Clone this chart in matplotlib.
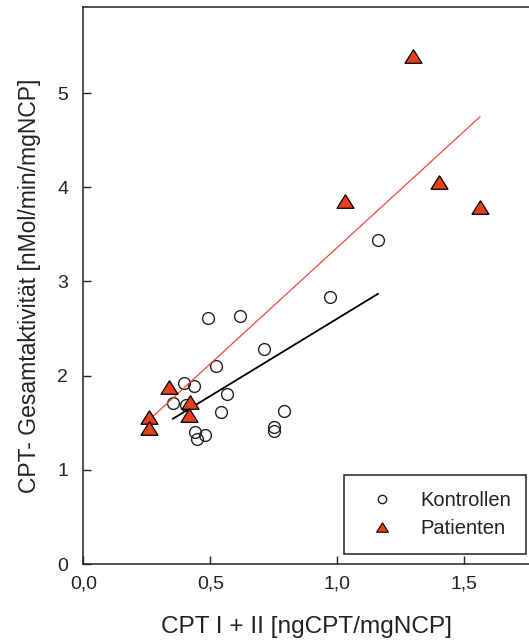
import matplotlib.pyplot as plt
from matplotlib.lines import Line2D
import numpy as np

plt.rcParams['font.family'] = ['Liberation Sans', 'DejaVu Sans']

# Kontrollen: CPT I + II vs. CPT total activity
ctrl_x = [1.160, 0.973, 0.490, 0.617, 0.712, 0.522, 0.395, 0.436, 0.353,
          0.405, 0.566, 0.544, 0.792, 0.750, 0.750, 0.440, 0.478, 0.446]
ctrl_y = [3.44, 2.84, 2.61, 2.63, 2.285, 2.10, 1.92, 1.89, 1.71,
          1.69, 1.80, 1.61, 1.63, 1.45, 1.41, 1.40, 1.37, 1.33]

# Patienten
pat_x = [1.300, 1.030, 1.402, 1.562, 0.339, 0.257, 0.257, 0.420, 0.418]
pat_y = [5.39, 3.85, 4.06, 3.79, 1.88, 1.56, 1.44, 1.72, 1.58]

x_ticks = [0.0, 0.5, 1.0, 1.5]
x_labels = ['0,0', '0,5', '1,0', '1,5']
y_ticks = [0, 1, 2, 3, 4, 5]
y_labels = ['0', '1', '2', '3', '4', '5']

ink = '#222222'
pat_red = '#E8401C'
fit_red = '#F24A38'

# flattened triangle marker
tri = [(0, 0.8), (-1, -0.8), (1, -0.8), (0, 0.8)]

fig = plt.figure(figsize=(5.29, 6.44), dpi=100)
ax = fig.add_axes([0.1575, 0.1242, 1 - 0.1575, 0.8643])

ax.plot(ctrl_x, ctrl_y, linestyle='none', marker='o', ms=8.5,
        mfc='none', mec=ink, mew=1.0, zorder=3)

# linear regression lines over the range of each group
for xs, ys, col, lw in [(ctrl_x, ctrl_y, 'black', 1.3),
                        (pat_x, pat_y, fit_red, 0.9)]:
    k, d = np.polyfit(xs, ys, 1)
    xx = np.array([min(xs), max(xs)])
    ax.plot(xx, k * xx + d, color=col, lw=lw, zorder=4)

ax.plot(pat_x, pat_y, linestyle='none', marker=tri, ms=12.2,
        mfc=pat_red, mec='black', mew=0.9, zorder=5)

ax.set_xlim(0, 1.755)
ax.set_ylim(0, 5.91)
ax.set_xticks(x_ticks)
ax.set_xticklabels(x_labels)
ax.set_yticks(y_ticks)
ax.set_yticklabels(y_labels)
ax.tick_params(direction='in', length=6, width=1.0, color=ink,
               labelcolor=ink, labelsize=14)
ax.tick_params(axis='x', pad=8)
ax.tick_params(axis='y', pad=11)

ax.spines['right'].set_visible(False)
for s in ['left', 'bottom', 'top']:
    ax.spines[s].set_linewidth(1.1)
    ax.spines[s].set_color(ink)

ax.set_xlabel('CPT I + II [ngCPT/mgNCP]', fontsize=17.6, color=ink)
ax.set_ylabel('CPT- Gesamtaktivität [nMol/min/mgNCP]', fontsize=16.5,
              color=ink)
ax.xaxis.set_label_coords(0.5, -0.093)
ax.yaxis.set_label_coords(-0.095, 0.5)

handles = [
    Line2D([], [], linestyle='none', marker='o', ms=6, mfc='none',
           mec=ink, mew=1.0),
    Line2D([], [], linestyle='none', marker=tri, ms=8.5, mfc=pat_red,
           mec='black', mew=0.8),
]
leg = ax.legend(handles, ['Kontrollen', 'Patienten'],
                loc='center', bbox_to_anchor=(0.650, 0.1413, 0.344, 0.1196),
                bbox_transform=fig.transFigure, mode='expand',
                borderaxespad=0, fontsize=14.5, borderpad=0.76,
                labelspacing=0.47, handlelength=2.22, handletextpad=0.8,
                fancybox=False, framealpha=1, edgecolor=ink)
leg.get_frame().set_linewidth(1.1)
for t in leg.get_texts():
    t.set_color(ink)

fig.savefig('out.png', dpi=100)
